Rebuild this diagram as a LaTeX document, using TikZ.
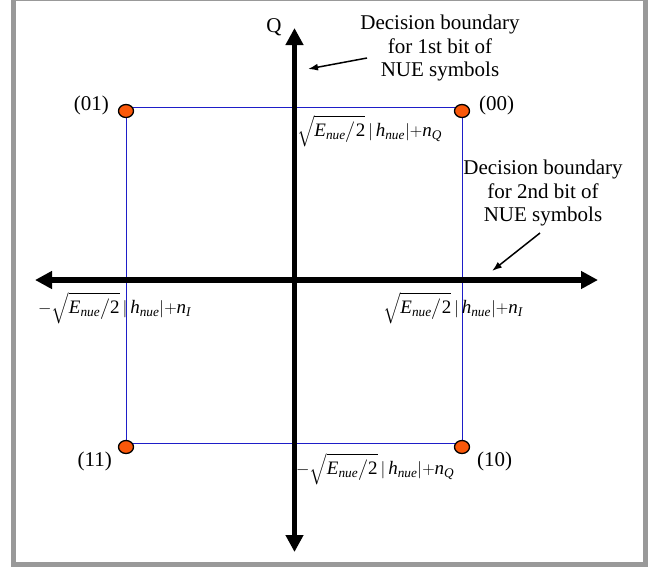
\documentclass[tikz,border=0pt]{standalone}
\usepackage{fontspec}
\usepackage{amsmath}
\setmainfont{Liberation Serif}
\usetikzlibrary{arrows.meta,shapes.geometric}
\definecolor{frameg}{RGB}{153,153,153}
\definecolor{dotor}{RGB}{250,88,10}
\definecolor{bline}{RGB}{30,30,200}
\newcommand{\ti}[1]{\text{\itshape #1}}
\newcommand{\lab}[2]{$#1\sqrt{\ti{E}_{\ti{nue}}\big/\text{2}}\mskip3mu|\mskip3mu\ti{h}_{\ti{nue}}|{+}\ti{n}_{\ti{#2}}$}
\begin{document}
\begin{tikzpicture}[x=1pt,y=-1pt,
  axis/.style={line width=5.5pt,{Triangle[length=17pt,width=17pt]}-{Triangle[length=17pt,width=17pt]}},
  note/.style={line width=1.5pt,-{Latex[length=10pt,width=7pt]}},
  txt/.style={font=\fontsize{21}{23.5}\selectfont,inner sep=0pt},
  mlab/.style={font=\fontsize{19}{22}\selectfont,inner sep=0pt,anchor=west},
  dot/.style={ellipse,draw=black,line width=1.3pt,fill=dotor,minimum width=15pt,minimum height=13pt,inner sep=0pt},
  blueline/.style={draw=bline,line width=0.9pt}]
\useasboundingbox (0,0) rectangle (659,566);
\clip (0,0) rectangle (659,566);
\fill[white] (0,0) rectangle (659,566);
\draw[frameg,line width=5pt] (13.5,-1.5) rectangle (645.5,564);
% blue square
\coordinate (bl1) at (126,107);
\coordinate (bl2) at (462,443);
\draw[blueline] (bl1) rectangle (bl2);
% axes
\coordinate (vb) at (294.5,552);
\coordinate (vt) at (294.5,28);
\coordinate (hl) at (35,280);
\coordinate (hr) at (598,280);
\draw[axis] (vb) -- (vt);
\draw[axis] (hl) -- (hr);
% points
\node[dot] (p01) at (126,111) {};
\node[dot] (p00) at (462,111) {};
\node[dot] (p11) at (126,447) {};
\node[dot] (p10) at (462,447) {};
\node[txt,anchor=east] (l01) at (109,105) {(01)};
\node[txt,anchor=west] (l00) at (479,105) {(00)};
\node[txt,anchor=east] (l11) at (112,461) {(11)};
\node[txt,anchor=west] (l10) at (477,461) {(10)};
\node[txt] (q) at (274,27) {Q};
% annotations
\node[txt,align=center] (d1) at (440,48) {Decision boundary\\for 1st bit of\\NUE symbols};
\node[txt,align=center] (d2) at (543,193) {Decision boundary\\for 2nd bit of\\NUE symbols};
\coordinate (a1s) at (367,58);
\coordinate (a1e) at (308,69);
\coordinate (a2s) at (540,233);
\coordinate (a2e) at (492,271);
\draw[note] (a1s) -- (a1e);
\draw[note] (a2s) -- (a2e);
% math labels
\node[mlab] (mt) at (297,131) {\lab{}{Q}};
\node[mlab] (mr) at (383,308) {\lab{}{I}};
\node[mlab] (ml) at (38,308) {\lab{{-}}{I}};
\node[mlab] (mb) at (296,469) {\lab{{-}}{Q}};
\end{tikzpicture}
\end{document}
